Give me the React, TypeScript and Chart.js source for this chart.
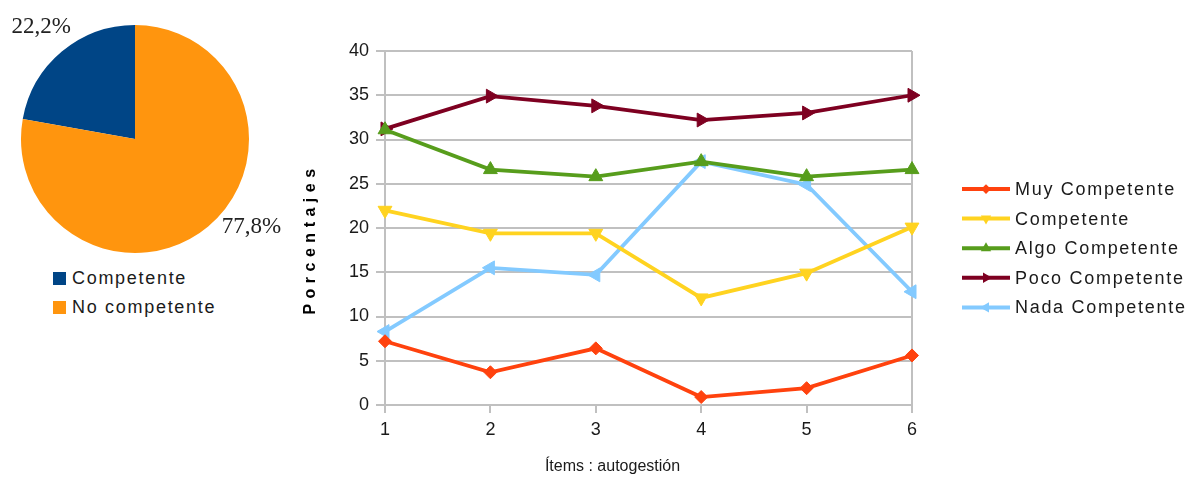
import React, { useEffect, useRef } from "react";
import { Chart, registerables } from "chart.js";
Chart.register(...registerables);

// ---- Pie data ----
const pieLabels = ["Competente", "No competente"];
const pieValues = [22.2, 77.8];
const pieColors = ["#004586", "#ff950e"];
const pieValueTexts = ["22,2%", "77,8%"];

// ---- Line data ----
const itemLabels = ["1", "2", "3", "4", "5", "6"];
const seriesNames = [
  "Muy Competente",
  "Competente",
  "Algo Competente",
  "Poco Competente",
  "Nada Competente",
];
const muyCompetente = [7.2, 3.7, 6.4, 0.9, 1.9, 5.6];
const competente = [22.0, 19.4, 19.4, 12.1, 14.9, 20.1];
const algoCompetente = [31.1, 26.6, 25.8, 27.5, 25.8, 26.6];
const pocoCompetente = [31.2, 34.9, 33.8, 32.2, 33.0, 35.0];
const nadaCompetente = [8.3, 15.5, 14.7, 27.5, 24.9, 12.8];
const seriesValues = [muyCompetente, competente, algoCompetente, pocoCompetente, nadaCompetente];
const seriesColors = ["#ff420e", "#ffd320", "#579d1c", "#7e0021", "#83caff"];
const seriesStyles = ["rectRot", "triangle", "triangle", "triangle", "triangle"];
const seriesRotations = [0, 180, 0, 90, 270];
const seriesRadius = [6.5, 8, 8, 8, 8];
const yMin = 0;
const yMax = 40;
const yStep = 5;
const yTitle = "Porcentajes";
const xTitle = "Ítems : autogestión";

const SANS = "'Liberation Sans', Arial, sans-serif";
const SERIF = "'Liberation Serif', 'Times New Roman', serif";
const GRID = "#c0c0c0";
const TEXT = "#1a1a1a";

function markerPath(ctx: CanvasRenderingContext2D, style: string, rotDeg: number, x: number, y: number, r: number) {
  ctx.beginPath();
  const base = (rotDeg * Math.PI) / 180;
  const n = style === "rectRot" ? 4 : 3;
  for (let k = 0; k < n; k++) {
    const a = base + (k * 2 * Math.PI) / n;
    const px = x + Math.sin(a) * r;
    const py = y - Math.cos(a) * r;
    if (k === 0) ctx.moveTo(px, py);
    else ctx.lineTo(px, py);
  }
  ctx.closePath();
}

const lineDecor = {
  id: "lineDecor",
  afterDraw(chart: any) {
    const ctx: CanvasRenderingContext2D = chart.ctx;
    const area = chart.chartArea;
    ctx.save();
    // legend
    const lx0 = 662;
    const lx1 = 710;
    seriesNames.forEach((name, i) => {
      const y = 189 + i * 29.6;
      ctx.strokeStyle = seriesColors[i];
      ctx.lineWidth = 4;
      ctx.beginPath();
      ctx.moveTo(lx0, y);
      ctx.lineTo(lx1, y);
      ctx.stroke();
      ctx.fillStyle = seriesColors[i];
      markerPath(ctx, seriesStyles[i], seriesRotations[i], (lx0 + lx1) / 2, y, seriesRadius[i] * 0.75);
      ctx.fill();
      ctx.fillStyle = TEXT;
      ctx.font = `18px ${SANS}`;
      (ctx as any).letterSpacing = "1.7px";
      ctx.textAlign = "left";
      ctx.textBaseline = "middle";
      ctx.fillText(name, lx1 + 5, y + 1);
      (ctx as any).letterSpacing = "0px";
    });
    // y title
    ctx.save();
    ctx.translate(11, (area.top + area.bottom) / 2 + 14);
    ctx.rotate(-Math.PI / 2);
    ctx.font = `bold 16px ${SANS}`;
    (ctx as any).letterSpacing = "5.5px";
    ctx.fillStyle = "#000";
    ctx.textAlign = "center";
    ctx.textBaseline = "middle";
    ctx.fillText(yTitle, 3, 0);
    ctx.restore();
    // x title
    ctx.font = `16px ${SANS}`;
    (ctx as any).letterSpacing = "0px";
    ctx.fillStyle = TEXT;
    ctx.textAlign = "center";
    ctx.textBaseline = "middle";
    ctx.fillText(xTitle, (area.left + area.right) / 2 - 36, 467);
    ctx.restore();
  },
};

const pieDecor = {
  id: "pieDecor",
  afterDraw(chart: any) {
    const ctx: CanvasRenderingContext2D = chart.ctx;
    const meta = chart.getDatasetMeta(0);
    const angleShift = [0, -13];
    ctx.save();
    ctx.font = `23px ${SERIF}`;
    ctx.fillStyle = "#222";
    ctx.textAlign = "center";
    ctx.textBaseline = "middle";
    meta.data.forEach((arc: any, i: number) => {
      const p = arc.getProps(["x", "y", "startAngle", "endAngle", "outerRadius"], true);
      const mid = (p.startAngle + p.endAngle) / 2 + (angleShift[i] * Math.PI) / 180;
      const d = p.outerRadius * 1.28;
      ctx.fillText(pieValueTexts[i], p.x + Math.cos(mid) * d, p.y + Math.sin(mid) * d);
    });
    ctx.restore();
  },
};

export default function App() {
  const pieRef = useRef<HTMLCanvasElement>(null);
  const lineRef = useRef<HTMLCanvasElement>(null);

  useEffect(() => {
    const pie = new Chart(pieRef.current!, {
      type: "pie",
      data: {
        labels: pieLabels,
        datasets: [
          {
            data: pieValues,
            backgroundColor: pieColors,
            borderWidth: 0,
          },
        ],
      },
      options: {
        responsive: false,
        animation: false,
        rotation: -(pieValues[0] / (pieValues[0] + pieValues[1])) * 360,
        layout: { padding: { left: 21, right: 51, top: 25, bottom: 9 } },
        plugins: { legend: { display: false }, tooltip: { enabled: false } },
      },
      plugins: [pieDecor],
    });

    const line = new Chart(lineRef.current!, {
      type: "line",
      data: {
        labels: itemLabels,
        datasets: seriesNames.map((name, i) => ({
          label: name,
          data: seriesValues[i],
          borderColor: seriesColors[i],
          backgroundColor: seriesColors[i],
          borderWidth: 3.8,
          pointStyle: seriesStyles[i] as any,
          pointRotation: seriesRotations[i],
          pointRadius: seriesRadius[i],
          pointBorderWidth: 1,
          pointBorderColor: seriesColors[i],
          pointBackgroundColor: seriesColors[i],
          tension: 0,
          fill: false,
        })),
      },
      options: {
        responsive: false,
        animation: false,
        layout: { padding: { left: 0, right: 278, top: 51, bottom: 0 } },
        plugins: { legend: { display: false }, tooltip: { enabled: false } },
        scales: {
          x: {
            type: "category",
            offset: false,
            grid: {
              offset: false,
              color: (c: any) => (c.index === 0 || c.index === itemLabels.length - 1 ? GRID : "rgba(0,0,0,0)"),
              lineWidth: 2,
              tickColor: GRID,
              tickLength: 8,
              drawTicks: true,
            },
            border: { display: true, color: GRID, width: 2 },
            ticks: {
              color: TEXT,
              font: { family: SANS, size: 18 },
              padding: 6,
              maxRotation: 0,
            },
            afterFit: (s: any) => {
              s.height = 73;
            },
          },
          y: {
            min: yMin,
            max: yMax,
            ticks: {
              stepSize: yStep,
              color: TEXT,
              font: { family: SANS, size: 18 },
              padding: 7,
            },
            grid: { color: GRID, lineWidth: 2, tickColor: GRID, tickLength: 9 },
            border: { display: true, color: GRID, width: 2 },
            afterFit: (s: any) => {
              s.width = 85;
            },
          },
        },
      },
      plugins: [lineDecor],
    });

    return () => {
      pie.destroy();
      line.destroy();
    };
  }, []);

  const legendRow = (i: number, top: number) => (
    <div
      key={i}
      style={{ position: "absolute", left: 53, top, height: 20, display: "flex", alignItems: "center" }}
    >
      <span style={{ width: 13, height: 13, background: pieColors[i], display: "inline-block" }} />
      <span
        style={{
          marginLeft: 6,
          font: `18px ${SANS}`,
          letterSpacing: "1.7px",
          color: TEXT,
          lineHeight: "20px",
        }}
      >
        {pieLabels[i]}
      </span>
    </div>
  );

  return (
    <div style={{ position: "fixed", left: 0, top: 0, width: 1190, height: 478, background: "#fff", overflow: "hidden" }}>
      <canvas ref={pieRef} width={300} height={262} style={{ position: "absolute", left: 0, top: 0 }} />
      {legendRow(0, 268)}
      {legendRow(1, 297)}
      <canvas ref={lineRef} width={890} height={478} style={{ position: "absolute", left: 300, top: 0 }} />
    </div>
  );
}
